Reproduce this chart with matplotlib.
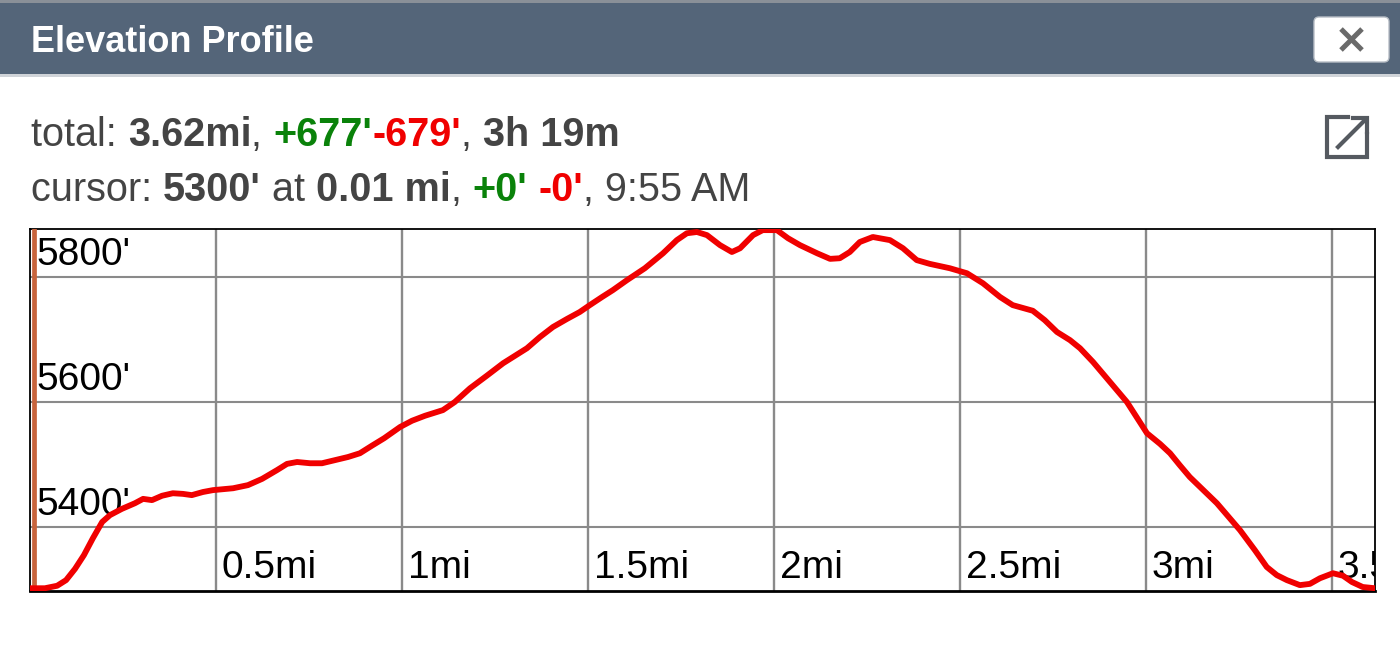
import matplotlib
matplotlib.use("Agg")
import matplotlib.pyplot as plt
from matplotlib.patches import Rectangle, FancyBboxPatch
from matplotlib import transforms

plt.rcParams["font.family"] = ["Liberation Sans", "DejaVu Sans"]

W, H = 1400, 649

# elevation profile (miles, feet)
dist_mi = [0.000, 0.040, 0.073, 0.097, 0.121, 0.145, 0.169, 0.194, 0.215, 0.247,
           0.282, 0.304, 0.328, 0.355, 0.384, 0.411, 0.435, 0.465, 0.492, 0.546,
           0.586, 0.624, 0.664, 0.691, 0.718, 0.753, 0.785, 0.820, 0.855, 0.887,
           0.919, 0.952, 0.995, 1.027, 1.062, 1.110, 1.142, 1.183, 1.228, 1.272,
           1.336, 1.371, 1.406, 1.444, 1.478, 1.505, 1.538, 1.567, 1.605, 1.653,
           1.702, 1.739, 1.766, 1.793, 1.820, 1.855, 1.887, 1.909, 1.944, 1.970,
           2.008, 2.038, 2.070, 2.116, 2.151, 2.177, 2.204, 2.231, 2.266, 2.312,
           2.347, 2.384, 2.419, 2.473, 2.519, 2.562, 2.608, 2.642, 2.696, 2.728,
           2.761, 2.796, 2.823, 2.858, 2.895, 2.949, 3.003, 3.038, 3.065, 3.091,
           3.118, 3.191, 3.253, 3.293, 3.325, 3.352, 3.379, 3.414, 3.441, 3.468,
           3.503, 3.530, 3.554, 3.583, 3.616]
elev_ft = [5302, 5302, 5306, 5315, 5333, 5355, 5382, 5408, 5419, 5429,
           5438, 5445, 5443, 5450, 5454, 5453, 5451, 5456, 5459, 5462,
           5467, 5477, 5491, 5501, 5504, 5502, 5502, 5507, 5512, 5518,
           5530, 5542, 5560, 5570, 5578, 5587, 5600, 5622, 5642, 5662,
           5686, 5704, 5720, 5733, 5744, 5755, 5768, 5779, 5795, 5814,
           5838, 5859, 5870, 5872, 5867, 5851, 5840, 5846, 5867, 5875,
           5875, 5862, 5851, 5838, 5829, 5830, 5840, 5856, 5864, 5859,
           5846, 5827, 5821, 5814, 5806, 5790, 5768, 5755, 5746, 5731,
           5712, 5699, 5686, 5664, 5638, 5600, 5550, 5533, 5518, 5499,
           5480, 5438, 5395, 5363, 5336, 5323, 5315, 5307, 5309, 5318,
           5326, 5322, 5312, 5304, 5302]

x_ticks = [0.5, 1, 1.5, 2, 2.5, 3, 3.5]
x_tick_labels = ["0.5mi", "1mi", "1.5mi", "2mi", "2.5mi", "3mi", "3.5mi"]
y_ticks = [5400, 5600, 5800]
y_tick_labels = ["5400'", "5600'", "5800'"]
cursor_mi = 0.01
total_len_mi = 3.616
y_range = (5297.6, 5876.8)

TEXT = "#444444"
GREEN = "#0a820a"
RED = "#f00000"

title = "Elevation Profile"
total_runs = [("total: ", "normal", TEXT), ("3.62mi", "bold", TEXT),
              (", ", "normal", TEXT), ("+677'", "bold", GREEN),
              ("-679'", "bold", RED), (", ", "normal", TEXT),
              ("3h 19m", "bold", TEXT)]
cursor_runs = [("cursor: ", "normal", TEXT), ("5300'", "bold", TEXT),
               (" at ", "normal", TEXT), ("0.01 mi", "bold", TEXT),
               (", ", "normal", TEXT), ("+0'", "bold", GREEN),
               (" ", "normal", TEXT), ("-0'", "bold", RED),
               (", 9:55 AM", "normal", TEXT)]

fig = plt.figure(figsize=(W / 100, H / 100), dpi=100)
fig.patch.set_facecolor("white")

# background layer in pixel coordinates
bg = fig.add_axes([0, 0, 1, 1])
bg.set_xlim(0, W)
bg.set_ylim(H, 0)
bg.axis("off")
bg.set_zorder(0)

bg.add_patch(Rectangle((0, 0), W, 75, fc="#546579", ec="none"))
bg.add_patch(Rectangle((0, 0), W, 2.5, fc="#8a9098", ec="none"))
bg.add_patch(Rectangle((0, 74), W, 3, fc="#cfd3d8", ec="none"))
bg.text(31, 52, title, color="white", fontsize=26, fontweight="bold", va="baseline")

# close button
bg.add_patch(FancyBboxPatch((1314, 17), 75, 45, boxstyle="round,pad=0,rounding_size=5",
                            fc="white", ec="#b8bec6", lw=1))
bg.plot([1341, 1362], [29, 50], color="#6a6a6a", lw=3.6, solid_capstyle="butt")
bg.plot([1341, 1362], [50, 29], color="#6a6a6a", lw=3.6, solid_capstyle="butt")

# open-in-new icon
ic = "#555a60"
bg.plot([1348, 1327, 1327, 1367, 1367], [117, 117, 157, 157, 134], color=ic, lw=3,
        solid_joinstyle="miter")
bg.plot([1338, 1365], [147, 120], color=ic, lw=3)
bg.plot([1353, 1367, 1367], [118, 118, 132], color=ic, lw=3, solid_joinstyle="miter")

renderer = fig.canvas.get_renderer()


def run_width(s, size, weight):
    a = bg.text(0, 0, "|" + s + "|", fontsize=size, fontweight=weight)
    b = bg.text(0, 0, "||", fontsize=size, fontweight=weight)
    w = a.get_window_extent(renderer).width - b.get_window_extent(renderer).width
    a.remove()
    b.remove()
    return w


def draw_runs(runs, x, y, size):
    for s, weight, color in runs:
        bg.text(x, y, s, fontsize=size, fontweight=weight, color=color,
                va="baseline", ha="left")
        x += run_width(s, size, weight)


draw_runs(total_runs, 31, 146, 28.5)
draw_runs(cursor_runs, 31, 201, 28.5)

# main chart
ax = fig.add_axes([30 / W, (H - 591) / H, (1375 - 30) / W, (591 - 229) / H])
ax.set_zorder(1)
ax.set_xlim(0, total_len_mi)
ax.set_ylim(*y_range)
ax.set_xticks([])
ax.set_yticks([])
for s in ax.spines.values():
    s.set_color("black")
    s.set_linewidth(1.3)
ax.spines["bottom"].set_linewidth(2)

for xt in x_ticks:
    ax.axvline(xt, color="#8a8a8a", lw=1.7, zorder=1)
for yt in y_ticks:
    ax.axhline(yt, color="#8a8a8a", lw=1.5, zorder=1)

bx = transforms.blended_transform_factory(ax.transData, ax.transAxes)
for xt, lab in zip(x_ticks, x_tick_labels):
    tr = transforms.offset_copy(bx, fig=fig, x=6, y=13, units="dots")
    ax.text(xt, 0, lab, transform=tr, fontsize=28, color="black",
            va="baseline", ha="left", clip_on=True, zorder=2)

by = transforms.blended_transform_factory(ax.transAxes, ax.transData)
for yt, lab in zip(y_ticks, y_tick_labels):
    tr = transforms.offset_copy(by, fig=fig, x=6, y=12, units="dots")
    ax.text(0, yt, lab, transform=tr, fontsize=28, color="black",
            va="baseline", ha="left", clip_on=True, zorder=2)

ax.axvline(cursor_mi, color="#c8643c", lw=3.4, zorder=3)
ax.plot(dist_mi, elev_ft, color="#f00000", lw=4.2, solid_joinstyle="round",
        solid_capstyle="round", zorder=4)

fig.savefig("out.png", dpi=100, facecolor="white")
